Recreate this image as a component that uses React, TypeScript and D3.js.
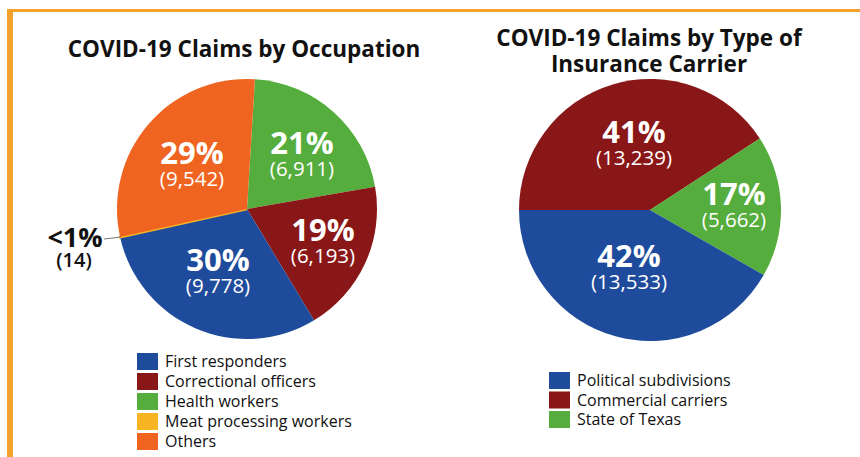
import React from "react";
import * as d3 from "d3";

const occCategories = ["First responders", "Correctional officers", "Health workers", "Meat processing workers", "Others"];
const occValues = [9778, 6193, 6911, 14, 9542];
const occPercentLabels = ["30%", "19%", "21%", "<1%", "29%"];
const occColors = ["#1f4b9c", "#8a1717", "#55ad3d", "#f7b523", "#ef6420"];
// draw order clockwise from top
const occOrder = [2, 1, 0, 3, 4];

const carCategories = ["Political subdivisions", "Commercial carriers", "State of Texas"];
const carValues = [13533, 13239, 5662];
const carPercentLabels = ["42%", "41%", "17%"];
const carColors = ["#1f4b9c", "#8a1717", "#55ad3d"];
const carOrder = [1, 2, 0];

const fmt = d3.format(",");
const FONT = "'Open Sans', 'Noto Sans', sans-serif";

type PieProps = {
  cx: number; cy: number; r: number;
  values: number[]; colors: string[]; order: number[];
  startDeg: number; labels: string[];
  labelPos: (i: number, centroid: [number, number]) => [number, number] | null;
};

function Pie({ cx, cy, r, values, colors, order, startDeg, labels, labelPos }: PieProps) {
  const data = order.map((i) => ({ i, v: values[i] }));
  const start = (startDeg * Math.PI) / 180;
  const pie = d3.pie<{ i: number; v: number }>().value((d) => d.v).sort(null)
    .startAngle(start).endAngle(start + 2 * Math.PI);
  const arcs = pie(data);
  const arc = d3.arc<d3.PieArcDatum<{ i: number; v: number }>>().innerRadius(0).outerRadius(r);
  const total = d3.sum(values);
  return (
    <g transform={`translate(${cx},${cy})`}>
      {arcs.map((a) => (
        <path key={a.data.i} d={arc(a) || ""} fill={colors[a.data.i]}
          stroke={a.data.v / total < 0.01 ? colors[a.data.i] : "none"}
          strokeWidth={a.data.v / total < 0.01 ? 2.5 : 0} />
      ))}
      {arcs.map((a) => {
        const c = arc.centroid(a) as [number, number];
        const p = labelPos(a.data.i, c);
        if (!p) return null;
        return (
          <g key={"l" + a.data.i} fontFamily={FONT} fill="#fff" textAnchor="middle">
            <text x={p[0]} y={p[1]} fontSize={31} fontWeight={700}>{labels[a.data.i]}</text>
            <text x={p[0]} y={p[1] + 22} fontSize={20.5}>({fmt(a.data.v)})</text>
          </g>
        );
      })}
    </g>
  );
}

function Legend({ x, y, items, colors, step }: { x: number; y: number; items: string[]; colors: string[]; step: number }) {
  return (
    <g fontFamily={FONT} fontSize={16} fontWeight={500} fill="#111">
      {items.map((t, i) => (
        <g key={t} transform={`translate(${x},${y + i * step})`}>
          <rect x={0} y={0} width={21} height={17} fill={colors[i]} />
          <text x={28} y={14}>{t}</text>
        </g>
      ))}
    </g>
  );
}

export default function App() {
  const occPos: Record<number, [number, number]> = {
    4: [-55, -45], 2: [55, -55], 1: [76, 32], 0: [-29, 62],
  };
  const carPos: Record<number, [number, number]> = {
    1: [-16, -67], 2: [84, -5], 0: [-21, 57],
  };
  return (
    <svg width={860} height={457} style={{ position: "absolute", left: 0, top: 0 }}>
      <rect x={0} y={0} width={860} height={457} fill="#fff" />
      <line x1={7} y1={10.5} x2={860} y2={10.5} stroke="#f4a22c" strokeWidth={3} />
      <line x1={10} y1={9} x2={10} y2={457} stroke="#f4a22c" strokeWidth={6} />

      <g fontFamily={FONT} fontWeight={700} fontSize={22.5} fill="#111" textAnchor="middle">
        <text x={244} y={57}>COVID-19 Claims by Occupation</text>
        <text x={649} y={46}>COVID-19 Claims by Type of</text>
        <text x={649} y={72}>Insurance Carrier</text>
      </g>

      <Pie cx={247} cy={209} r={130} values={occValues} colors={occColors} order={occOrder}
        startDeg={3.5} labels={occPercentLabels}
        labelPos={(i) => (occPos[i] ? occPos[i] : null)} />
      <Pie cx={650} cy={210} r={131} values={carValues} colors={carColors} order={carOrder}
        startDeg={-90} labels={carPercentLabels}
        labelPos={(i) => carPos[i]} />

      {/* small-slice callout */}
      <line x1={104} y1={239} x2={121} y2={237} stroke="#777" strokeWidth={1} />
      <g fontFamily={FONT} fill="#111" textAnchor="middle">
        <text x={75} y={247} fontSize={27} fontWeight={700}>{occPercentLabels[3]}</text>
        <text x={74} y={267} fontSize={20} fontWeight={600}>({fmt(occValues[3])})</text>
      </g>

      <Legend x={137} y={353} items={occCategories} colors={occColors} step={20} />
      <Legend x={549} y={372} items={carCategories} colors={carColors} step={19.5} />
    </svg>
  );
}
